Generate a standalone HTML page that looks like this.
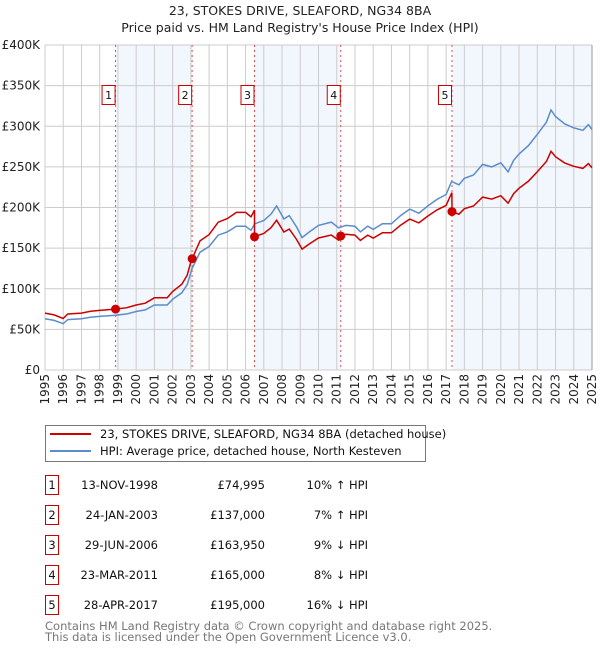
<!DOCTYPE html>
<html><head><meta charset="utf-8"><style>
body{margin:0;background:#fff;font-family:"DejaVu Sans","Liberation Sans",sans-serif;}
svg text{font-family:"DejaVu Sans","Liberation Sans",sans-serif;}
</style></head><body>
<svg id="chart" width="600" height="650" xmlns="http://www.w3.org/2000/svg">
<text x="300" y="15" text-anchor="middle" font-size="12.5" fill="#222">23, STOKES DRIVE, SLEAFORD, NG34 8BA</text>
<text x="300" y="32" text-anchor="middle" font-size="12.5" fill="#222">Price paid vs. HM Land Registry's House Price Index (HPI)</text>
<g id="shade"></g><g id="grid"></g><g id="vlines"></g><g id="lines"></g><g id="marks"></g><g id="axes"></g>
<g>
<rect x="45.5" y="425.5" width="380" height="36" fill="#fff" stroke="#777"/>
<line x1="50" y1="434" x2="91" y2="434" stroke="#cc0000" stroke-width="2"/>
<text x="100" y="438" font-size="11.5" fill="#111">23, STOKES DRIVE, SLEAFORD, NG34 8BA (detached house)</text>
<line x1="50" y1="451" x2="91" y2="451" stroke="#5b8ccc" stroke-width="2"/>
<text x="100" y="455" font-size="11.5" fill="#111">HPI: Average price, detached house, North Kesteven</text>
</g>
<g id="table"></g>
<text x="45" y="630" font-size="11.5" fill="#777">Contains HM Land Registry data © Crown copyright and database right 2025.</text>
<text x="45" y="641" font-size="11.5" fill="#777">This data is licensed under the Open Government Licence v3.0.</text>
</svg>
<script>
const hpiYears=[1995,1995.5,1996,1996.25,1997,1997.5,1998,1998.87,1999.5,2000,2000.5,2001,2001.7,2002,2002.5,2002.8,2003.07,2003.5,2004,2004.5,2005,2005.5,2006,2006.3,2006.5,2007,2007.4,2007.7,2008.1,2008.4,2008.8,2009.1,2009.5,2010,2010.7,2011.1,2011.5,2012,2012.3,2012.7,2013,2013.5,2014,2014.5,2015,2015.5,2016,2016.5,2017,2017.3,2017.7,2018,2018.5,2019,2019.5,2020,2020.4,2020.7,2021,2021.5,2022,2022.5,2022.75,2023,2023.5,2024,2024.5,2024.8,2025];
const hpiValues=[63,61,57,62,63,65,66,67.5,69,72,74,80,80,87,95,105,125,145,152,166,170,177,177,172,180,184,192,202,186,190,176,163,170,178,182,175,178,177,170,177,173,180,180,190,198,193,202,210,216,232,228,236,240,253,250,255,244,258,266,276,290,305,320,312,303,298,295,302,296];
const saleYears=[1998.87,2003.07,2006.49,2011.22,2017.32];
const salePrices=[74.995,137,163.95,165,195];
const saleLabels=["1","2","3","4","5"];
const saleDates=["13-NOV-1998","24-JAN-2003","29-JUN-2006","23-MAR-2011","28-APR-2017"];
const salePriceText=["£74,995","£137,000","£163,950","£165,000","£195,000"];
const salePct=["10% ↑ HPI","7% ↑ HPI","9% ↓ HPI","8% ↓ HPI","16% ↓ HPI"];
const yTicks=[0,50,100,150,200,250,300,350,400];
const yTickLabels=["£0","£50K","£100K","£150K","£200K","£250K","£300K","£350K","£400K"];
const xTicks=[1995,1996,1997,1998,1999,2000,2001,2002,2003,2004,2005,2006,2007,2008,2009,2010,2011,2012,2013,2014,2015,2016,2017,2018,2019,2020,2021,2022,2023,2024,2025];

const NS="http://www.w3.org/2000/svg";
const X0=45,X1=592,Y0=370,Y1=45;
const sx=y=>X0+(y-1995)/(2025-1995)*(X1-X0);
const sy=v=>Y0-v/400*(Y0-Y1);
function mk(tag,attrs,parent){const e=document.createElementNS(NS,tag);for(const k in attrs)e.setAttribute(k,attrs[k]);document.getElementById(parent).appendChild(e);return e;}
function hpiAt(t){for(let i=0;i<hpiYears.length-1;i++){if(t>=hpiYears[i]&&t<=hpiYears[i+1]){const f=(t-hpiYears[i])/(hpiYears[i+1]-hpiYears[i]);return hpiValues[i]+f*(hpiValues[i+1]-hpiValues[i]);}}return hpiValues[hpiValues.length-1];}

// shading
const shadeRanges=[[0,1],[2,3],[4,null]];
shadeRanges.forEach(r=>{const a=sx(saleYears[r[0]]),b=r[1]===null?X1:sx(saleYears[r[1]]);
const e=mk('rect',{x:a,y:Y1,width:b-a,height:Y0-Y1,fill:'#eef3fc',opacity:0.75},'shade');

});
// grid
yTicks.forEach((v,i)=>{const l=mk('line',{x1:X0,x2:X1,y1:sy(v),y2:sy(v),stroke:'#ccc','stroke-width':1},'grid');


const t=mk('text',{x:40,y:sy(v)+4,'text-anchor':'end','font-size':12,fill:'#222'},'axes');t.textContent=yTickLabels[i];

});
xTicks.forEach(y=>{const l=mk('line',{x1:sx(y),x2:sx(y),y1:Y1,y2:Y0,stroke:'#ccc','stroke-width':1},'grid');


const t=mk('text',{x:0,y:0,'text-anchor':'end','font-size':12,fill:'#222',transform:`translate(${sx(y)+4},374) rotate(-90)`},'axes');t.textContent=y;

});
mk('line',{x1:X1,x2:X1,y1:Y1,y2:Y0,stroke:'#999','stroke-width':1},'grid');
// hpi line
let d='';hpiYears.forEach((y,i)=>{d+=(i?'L':'M')+sx(y).toFixed(1)+' '+sy(hpiValues[i]).toFixed(1);});
const hp=mk('path',{d:d,fill:'none',stroke:'#5b8ccc','stroke-width':1.5},'lines');


// red line: price paid scaled by HPI
function ratioAt(t){let k=0;for(let i=0;i<saleYears.length;i++)if(t>=saleYears[i])k=i;return salePrices[k]/hpiAt(saleYears[k]);}
const ts=[...hpiYears];saleYears.forEach(s=>{ts.push(s-0.001);ts.push(s);});ts.sort((a,b)=>a-b);
let d2='';ts.forEach((t,i)=>{d2+=(i?'L':'M')+sx(t).toFixed(1)+' '+sy(hpiAt(t)*ratioAt(t)).toFixed(1);});
const rp=mk('path',{d:d2,fill:'none',stroke:'#cc0000','stroke-width':1.5},'lines');


// sale markers
saleYears.forEach((s,i)=>{
const v=mk('line',{x1:sx(s),x2:sx(s),y1:Y1,y2:Y0,stroke:'#e05050','stroke-width':1,'stroke-dasharray':'2,3'},'vlines');


const c=mk('circle',{cx:sx(s),cy:sy(salePrices[i]),r:4.5,fill:'#cc0000'},'marks');


const b=mk('rect',{x:sx(s)-13.5,y:85.5,width:13,height:19,fill:'#fff',stroke:'#cc0000'},'marks');


const t=mk('text',{x:sx(s)-7,y:99,'text-anchor':'middle','font-size':11,fill:'#111'},'marks');t.textContent=saleLabels[i];


// table
const ry=475+i*30;
const tb=mk('rect',{x:45.5,y:ry+0.5,width:13,height:19,fill:'#fff',stroke:'#cc0000'},'table');


const cells=[[52,'middle',saleLabels[i]],[158,'end',saleDates[i]],[265,'end',salePriceText[i]],[368,'end',salePct[i]]];
cells.forEach((c2,j)=>{const tt=mk('text',{x:c2[0],y:ry+14,'text-anchor':c2[1],'font-size':11.5,fill:'#111'},'table');tt.textContent=c2[2];

});
});
</script>
</body></html>
